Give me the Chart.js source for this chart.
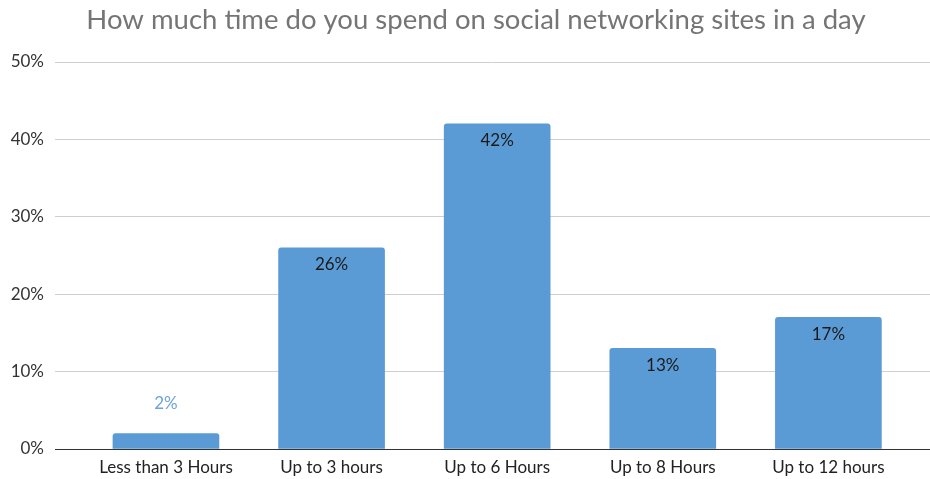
<!DOCTYPE html>
<html>
<head>
<meta charset="utf-8">
<script src="https://cdn.jsdelivr.net/npm/chart.js@4/dist/chart.umd.min.js"></script>
<style>
  html, body { margin: 0; padding: 0; background: #fff; }
  #wrap { width: 930px; height: 479px; position: relative; }
</style>
</head>
<body>
<div id="wrap"><canvas id="chart"></canvas></div>
<script>
// Survey: daily time spent on social networking sites
const categories = ['Less than 3 Hours', 'Up to 3 hours', 'Up to 6 Hours', 'Up to 8 Hours', 'Up to 12 hours'];
const shares = [2, 26, 42, 13, 17];
const yTicks = [0, 10, 20, 30, 40, 50];

const barBlue = '#5b9bd5';

// Value labels: inside the top of tall bars, above short ones
const valueLabels = {
  id: 'valueLabels',
  afterDatasetsDraw(chart) {
    const ctx = chart.ctx;
    const meta = chart.getDatasetMeta(0);
    ctx.save();
    ctx.font = '17px Lato';
    ctx.textAlign = 'center';
    ctx.textBaseline = 'middle';
    meta.data.forEach((bar, i) => {
      const v = shares[i];
      const text = v + '%';
      if (v < 5) {
        ctx.fillStyle = '#6fa3da';
        ctx.fillText(text, bar.x, bar.y - 30);
      } else {
        ctx.fillStyle = '#1a1a1a';
        ctx.fillText(text, bar.x, bar.y + 17);
      }
    });
    ctx.restore();
  }
};

// Centre the title a little right of the canvas middle
const titleShift = {
  id: 'titleShift',
  afterLayout(chart) {
    if (chart.titleBlock) {
      chart.titleBlock.left = 22;
      chart.titleBlock.right = chart.width;
    }
  }
};

new Chart(document.getElementById('chart'), {
  type: 'bar',
  data: {
    datasets: [{
      data: shares.map((v, i) => ({ x: i, y: v })),
      backgroundColor: barBlue,
      borderRadius: { topLeft: 3, topRight: 3, bottomLeft: 0, bottomRight: 0 },
      borderSkipped: 'start',
      barThickness: 106
    }]
  },
  options: {
    responsive: true,
    maintainAspectRatio: false,
    devicePixelRatio: 1,
    animation: false,
    layout: { padding: 0 },
    plugins: {
      legend: { display: false },
      tooltip: { enabled: false },
      title: {
        display: true,
        text: 'How much time do you spend on social networking sites in a day',
        color: '#757575',
        font: { family: 'Lato', size: 27.5, weight: 'normal' },
        padding: { top: 3.5, bottom: 25.5 }
      }
    },
    scales: {
      x: {
        type: 'linear',
        offset: false,
        min: -0.67,
        max: 4.6135,
        afterBuildTicks(scale) {
          scale.ticks = categories.map((c, i) => ({ value: i }));
        },
        afterFit(scale) { scale.height = 30; },
        grid: { display: false, drawTicks: false, offset: false },
        border: { display: true, color: '#333333', width: 1 },
        ticks: {
          autoSkip: false,
          maxRotation: 0,
          padding: 8,
          color: '#222222',
          font: { family: 'Lato', size: 17 },
          callback: (v) => categories[v]
        }
      },
      y: {
        min: 0,
        max: 50,
        afterBuildTicks(scale) {
          scale.ticks = yTicks.map(v => ({ value: v }));
        },
        afterFit(scale) { scale.width = 55; },
        grid: {
          drawTicks: false,
          color: (c) => (c.tick && c.tick.value === 0) ? 'rgba(0,0,0,0)' : '#cfcfcf',
          lineWidth: 1
        },
        border: { display: false },
        ticks: {
          padding: 11,
          color: '#333333',
          font: { family: 'Lato', size: 17 },
          callback: (v) => v + '%'
        }
      }
    }
  },
  plugins: [valueLabels, titleShift]
});
</script>
</body>
</html>
